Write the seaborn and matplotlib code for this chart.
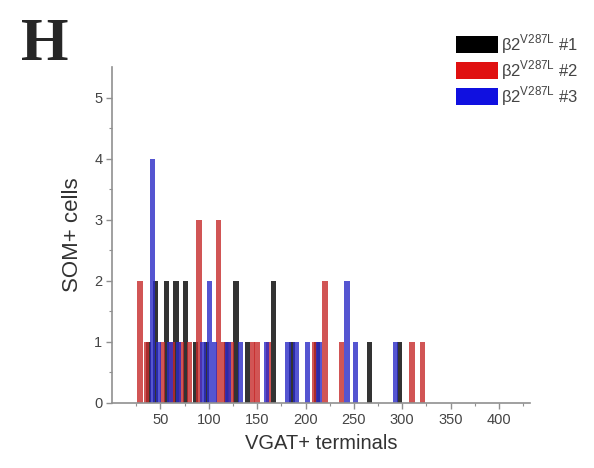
import numpy as np
import pandas as pd
import matplotlib
matplotlib.use("Agg")
import matplotlib.pyplot as plt
import seaborn as sns

# bar positions (VGAT+ terminals) and counts (SOM+ cells) per mouse
mouse1_x = [38, 45, 56, 66, 76, 86, 98, 118, 128, 140, 167, 186, 212, 266, 297]
mouse1_n = [1, 2, 2, 2, 2, 1, 1, 1, 2, 1, 2, 1, 1, 1, 1]
mouse2_x = [29, 36, 52, 62, 72, 80, 90, 110, 115, 123, 145, 150, 162, 209, 220, 237, 310, 321]
mouse2_n = [2, 1, 1, 1, 1, 1, 3, 3, 1, 1, 1, 1, 1, 1, 2, 1, 1, 1]
mouse3_x = [42, 48, 60, 69, 94, 101, 106, 120, 133, 160, 182, 190, 202, 214, 243, 252, 293]
mouse3_n = [4, 1, 1, 1, 1, 2, 1, 1, 1, 1, 1, 1, 1, 1, 2, 1, 1]

labels = ['β2$^{\\mathregular{V287L}}$ #1',
          'β2$^{\\mathregular{V287L}}$ #2',
          'β2$^{\\mathregular{V287L}}$ #3']
colors = ['#000000', '#e01010', '#1010e0']

df = pd.concat([
    pd.DataFrame({'terminals': mouse1_x, 'cells': mouse1_n, 'mouse': labels[0]}),
    pd.DataFrame({'terminals': mouse2_x, 'cells': mouse2_n, 'mouse': labels[1]}),
    pd.DataFrame({'terminals': mouse3_x, 'cells': mouse3_n, 'mouse': labels[2]}),
], ignore_index=True)

sns.set_style('ticks')
plt.rcParams['font.family'] = ['Liberation Sans', 'DejaVu Sans']
plt.rcParams['mathtext.fontset'] = 'custom'
plt.rcParams['mathtext.rm'] = 'Liberation Sans'

fig = plt.figure(figsize=(5.94, 4.68), dpi=100)
ax = fig.add_axes([112 / 594, 1 - 403 / 468, 418 / 594, 336 / 468])

# seaborn sizes bars relative to the smallest gap between x values
min_gap = np.diff(np.unique(df['terminals'])).min()
sns.barplot(data=df, x='terminals', y='cells', hue='mouse', hue_order=labels,
            palette=colors, native_scale=True, dodge=False, errorbar=None,
            width=5.5 / min_gap, alpha=0.8, linewidth=0, ax=ax)

ax.set_xlim(0, 432)
ax.set_ylim(0, 5.5)
ax.set_xticks([50, 100, 150, 200, 250, 300, 350, 400])
ax.set_xticks(np.arange(25, 430, 50), minor=True)
ax.set_yticks([0, 1, 2, 3, 4, 5])
ax.set_yticks(np.arange(0.5, 5.5, 1), minor=True)
ax.set_xlabel('VGAT+ terminals', fontsize=14.5, color='#333333', labelpad=5)
ax.set_ylabel('SOM+ cells', fontsize=16, color='#333333', labelpad=8)

for side in ['top', 'right']:
    ax.spines[side].set_visible(False)
for side in ['left', 'bottom']:
    ax.spines[side].set_color('#909090')
    ax.spines[side].set_linewidth(1.2)
ax.tick_params(which='major', length=4, width=1, color='#909090',
               labelsize=10.5, labelcolor='#444444', pad=3)
ax.tick_params(which='minor', length=2, width=0.8, color='#909090')

sns.move_legend(ax, 'upper left', bbox_to_anchor=(456 / 594, 1 - 32 / 468),
                bbox_transform=fig.transFigure, frameon=False, title=None,
                fontsize=12, handlelength=2.5, handleheight=1.2,
                labelspacing=0.15, handletextpad=0.2, borderpad=0,
                borderaxespad=0)
leg = ax.get_legend()
for h, c in zip(leg.legend_handles, colors):
    h.set_alpha(1)
    h.set_facecolor(c)
for t in leg.get_texts():
    t.set_color('#444444')

fig.text(21 / 594, 1 - 60 / 468, 'H', fontsize=44, fontweight='bold',
         family='Liberation Serif', va='baseline', ha='left')

fig.savefig('out.png', dpi=100)
